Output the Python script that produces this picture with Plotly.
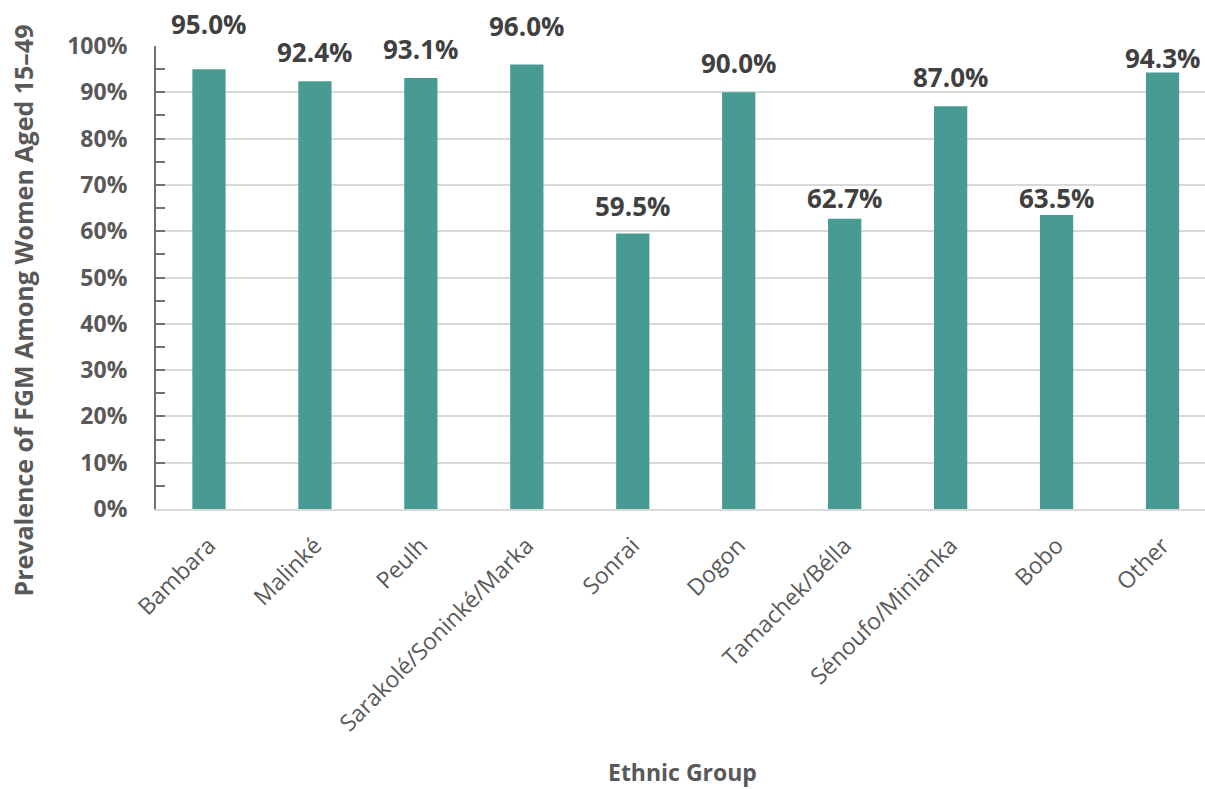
import plotly.graph_objects as go

categories = ["Bambara", "Malinké", "Peulh", "Sarakolé/Soninké/Marka", "Sonrai",
              "Dogon", "Tamachek/Bélla", "Sénoufo/Minianka", "Bobo", "Other"]
prevalence = [95.0, 92.4, 93.1, 96.0, 59.5, 90.0, 62.7, 87.0, 63.5, 94.3]
# vertical offset (px) of each data label above its bar top (style only)
label_shift = [45, 29, 29, 39, 28, 29, 21, 29, 17, 14]

FONT = "Open Sans"
BAR = "#489b93"
TXT = "#595959"

fig = go.Figure()
fig.add_trace(go.Bar(
    x=list(range(len(categories))),
    y=[v / 100 for v in prevalence],
    width=0.314,
    marker=dict(color=BAR, line=dict(width=0)),
    hoverinfo="skip",
))

for i, (v, s) in enumerate(zip(prevalence, label_shift)):
    fig.add_annotation(
        x=i, y=v / 100, xref="x", yref="y",
        text=f"<b>{v:.1f}%</b>", showarrow=False,
        yanchor="middle", xanchor="center", yshift=s,
        font=dict(family=FONT, size=26, color="#404040"),
    )

fig.add_annotation(
    x=0.5017, y=-0.568, xref="paper", yref="paper",
    text="<b>Ethnic Group</b>", showarrow=False,
    xanchor="center", yanchor="middle",
    font=dict(family=FONT, size=23, color=TXT),
)
fig.add_annotation(
    x=-0.1272, y=0.4277, xref="paper", yref="paper",
    text="<b>Prevalence of FGM Among Women Aged 15–49</b>", showarrow=False,
    xanchor="center", yanchor="middle", textangle=-90,
    font=dict(family=FONT, size=25, color=TXT),
)

fig.update_layout(
    width=1205, height=789,
    margin=dict(l=155.5, r=0, t=46, b=280),
    paper_bgcolor="white", plot_bgcolor="white",
    showlegend=False,
    font=dict(family=FONT, color=TXT),
)
fig.update_xaxes(
    range=[-0.5, 9.5 - 10.5 / 106],
    tickmode="array", tickvals=list(range(len(categories))), ticktext=categories,
    tickangle=-45, tickfont=dict(family=FONT, size=23, color=TXT),
    showgrid=False, zeroline=False,
    showline=True, linecolor="#d9d9d9", linewidth=2,
    ticks="", ticklabelstandoff=12,
)
fig.update_yaxes(
    range=[0, 1], dtick=0.1, tick0=0, tickformat=".0%",
    tickfont=dict(family=FONT, size=23, color=TXT, weight="bold"),
    showgrid=True, gridcolor="#d9d9d9", gridwidth=2,
    zeroline=False,
    showline=True, linecolor="#767171", linewidth=2,
    ticks="inside", ticklen=9, tickwidth=2, tickcolor="#767171",
    minor=dict(dtick=0.05, ticks="inside", ticklen=9, tickwidth=2,
               tickcolor="#767171", showgrid=False),
    ticklabelstandoff=22,
)

fig.write_html("out.html")
